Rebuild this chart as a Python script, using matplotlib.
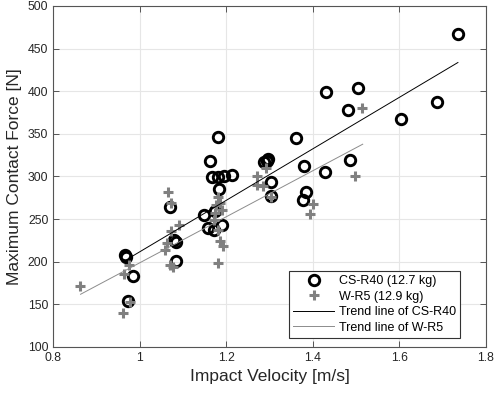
import matplotlib

matplotlib.use("Agg")
import matplotlib.pyplot as plt
import numpy as np

plt.rcParams["font.family"] = ["Liberation Sans", "DejaVu Sans"]

# CS-R40 (12.7 kg): impact velocity [m/s], max contact force [N]
cs_v = [0.966, 0.968, 0.985, 0.973, 1.069, 1.079, 1.083, 1.083, 1.149, 1.162,
        1.166, 1.180, 1.180, 1.195, 1.213, 1.183, 1.174, 1.158, 1.172, 1.189,
        1.287, 1.293, 1.296, 1.302, 1.302, 1.361, 1.380, 1.385, 1.377, 1.429,
        1.430, 1.480, 1.485, 1.503, 1.604, 1.686, 1.735]
cs_f = [208, 206, 183, 154, 264, 225, 223, 201, 255, 318,
        299, 346, 299, 300, 302, 285, 260, 239, 237, 243,
        317, 318, 320, 294, 277, 345, 312, 282, 272, 305,
        399, 378, 319, 404, 367, 387, 467]

# W-R5 (12.9 kg)
w_v = [0.862, 0.962, 0.963, 0.975, 0.977, 1.065, 1.073, 1.091, 1.073, 1.062,
       1.058, 1.069, 1.077, 1.180, 1.185, 1.175, 1.189, 1.173, 1.172, 1.181,
       1.185, 1.193, 1.180, 1.271, 1.270, 1.285, 1.291, 1.302, 1.400, 1.393,
       1.497, 1.514]
w_f = [171, 140, 186, 196, 153, 282, 269, 243, 236, 222,
       214, 196, 194, 276, 269, 267, 261, 257, 249, 237,
       224, 218, 199, 301, 290, 289, 310, 276, 268, 256,
       300, 380]

# trend lines: slope, intercept, x range
cs_trend = (302.0, -90.3)
cs_trend_range = [0.981, 1.735]
w_trend = (270.0, -71.2)
w_trend_range = [0.863, 1.515]

fig = plt.figure(figsize=(4.98, 3.97), dpi=100)
ax = fig.add_axes([0.107, 0.126, 0.869, 0.859])

ax.plot(cs_v, cs_f, ls="none", marker="o", ms=7.5, mew=2.1, mec="black",
        mfc="none", label="CS-R40 (12.7 kg)", zorder=3)
ax.plot(w_v, w_f, ls="none", marker="+", ms=7.5, mew=2.2, color="#808080",
        label="W-R5 (12.9 kg)", zorder=4)

xs = np.array(cs_trend_range)
ax.plot(xs, cs_trend[0] * xs + cs_trend[1], color="black", lw=0.7,
        label="Trend line of CS-R40", zorder=5)
xs = np.array(w_trend_range)
ax.plot(xs, w_trend[0] * xs + w_trend[1], color="#8c8c8c", lw=0.7,
        label="Trend line of W-R5", zorder=5)

ax.set_xlim(0.8, 1.8)
ax.set_ylim(100, 500)
ax.set_xticks([0.8, 1.0, 1.2, 1.4, 1.6, 1.8])
ax.set_xticklabels(["0.8", "1", "1.2", "1.4", "1.6", "1.8"])
ax.set_yticks(np.arange(100, 501, 50))
ax.tick_params(direction="in", top=True, right=True, length=4, width=0.7,
               colors="#555555", labelcolor="#262626", labelsize=8.8)
for s in ax.spines.values():
    s.set_color("#555555")
    s.set_linewidth(0.8)
ax.grid(True, color="#e6e6e6", lw=0.8)
ax.set_axisbelow(True)

ax.set_xlabel("Impact Velocity [m/s]", fontsize=12.5, color="#262626", labelpad=4)
ax.set_ylabel("Maximum Contact Force [N]", fontsize=12.5, color="#262626", labelpad=4)

leg = ax.legend(loc="lower right", bbox_to_anchor=(0.94, 0.026), borderaxespad=0,
                fancybox=False, framealpha=1, edgecolor="#333333", fontsize=9,
                handlelength=3.3, handletextpad=0.35, borderpad=0.35, labelspacing=0.28)
leg.get_frame().set_linewidth(0.8)

fig.savefig("out.png", dpi=100)
